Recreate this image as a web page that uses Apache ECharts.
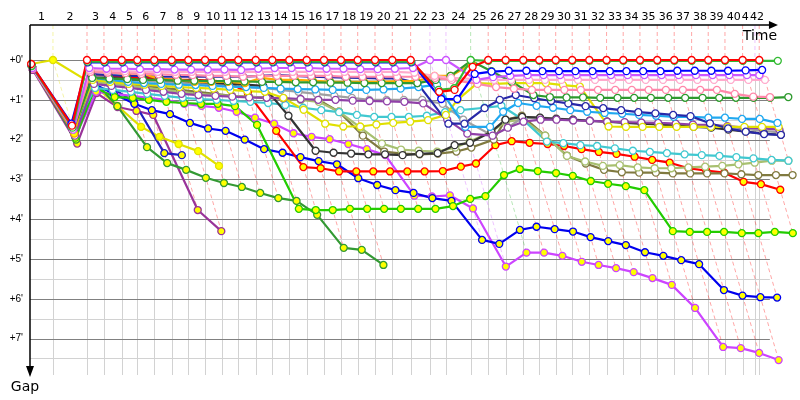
<!DOCTYPE html>
<html><head><meta charset="utf-8">
<script src="https://cdn.jsdelivr.net/npm/echarts@6/dist/echarts.min.js"></script>
<style>html,body{margin:0;padding:0;background:#fff}#c{width:800px;height:400px}</style>
</head><body><div id="c"></div>
<script>
// ---------- DATA ----------
const lapLabels = ['1','2','3','4','5','6','7','8','9','10','11','12','13','14','15','16','17','18','19','20','21','22','23','24','25','26','27','28','29','30','31','32','33','34','35','36','37','38','39','40','41','42'];
// leader's time (minutes) at the end of each lap, index 0 = start
const lapTimes = [0,1.99,4.94,6.41,7.95,9.30,10.77,12.28,13.72,15.17,16.61,18.05,19.56,21.00,22.47,23.98,25.48,26.95,28.40,29.90,31.40,32.99,34.66,36.05,38.19,39.71,41.22,42.75,44.13,45.56,46.99,48.47,49.97,51.41,52.86,54.36,55.83,57.34,58.78,60.23,61.76,62.83,63.20];
const finishTime = 64.79;
const gapTicks = [0,1,2,3,4,5,6,7];
const gapMinorTicks = [0.5,1.5,2.5,3.5,4.5,5.5,6.5,7.5];
// gap to leader (minutes) per lap, index = lap
const gapRedW = [0.1,1.65,0,0,0,0,0,0,0,0, 0,0,0,0,0,0,0,0,0,0, 0,0,0.8,0.75,0.17,0,0,0,0,0, 0,0,0,0,0,0,0,0,0,0, 0,null,0];
const gapGreenW = [0.15,1.7,0.04,0.04,0.04,0.04,0.04,0.04,0.04,0.04, 0.04,0.04,0.04,0.04,0.04,0.04,0.04,0.04,0.04,0.04, 0.04,0.04,0.75,0.71,0,0.02,0.02,0.02,0.02,0.02, 0.02,0.02,0.02,0.02,0.02,0.02,0.02,0.02,0.02,0.02, 0.02,null,0.02,0.02];
const gapBlueW = [0.12,1.6,0.06,0.06,0.06,0.06,0.06,0.06,0.06,0.06, 0.06,0.06,0.06,0.06,0.06,0.06,0.06,0.06,0.06,0.06, 0.06,0.06,0.98,0.98,0.35,0.29,0.27,0.27,0.28,0.28, 0.28,0.28,0.28,0.28,0.28,0.28,0.27,0.27,0.27,0.27, 0.26,null,0.25];
const gapMagentaW = [0.2,1.75,0.2,0.22,0.22,0.23,0.23,0.24,0.24,0.24, 0.24,0.25,0.22,0.2,0.2,0.2,0.22,0.22,0.23,0.23, 0.22,0.2,0,0,0.5,0.43,0.4,0.38,0.38,0.38, 0.38,0.38,0.38,0.38,0.38,0.38,0.38,0.38,0.38,0.38, 0.38,0.38];
const gapLightPinkW = [0.2,1.7,0.25,0.27,0.28,0.3,0.3,0.3,0.3,0.3, 0.3,0.3,0.3,0.3,0.3,0.3,0.3,0.3,0.3,0.3, 0.3,0.32,0.4,0.45,0.48,0.5,0.5,0.5,0.5,0.5, 0.5,0.5,0.5,0.5,0.5,0.5,0.5,0.5,0.5,0.5, 0.5,null,0.5];
const gapPinkW = [0.22,1.75,0.3,0.32,0.33,0.35,0.36,0.37,0.38,0.4, 0.4,0.42,0.4,0.4,0.4,0.4,0.4,0.42,0.42,0.42, 0.42,0.42,0.45,0.5,0.6,0.68,0.72,0.75,0.75,0.75, 0.75,0.75,0.75,0.75,0.75,0.75,0.75,0.75,0.75,0.85, 0.92,null,0.93];
const gapOrangeY = [0.2,1.85,0.3,0.3,0.35,0.33,0.48,0.5,0.55,0.55, 0.55,0.58,0.45,0.5,0.5,0.52,0.55,0.55,0.55,0.55, 0.53,0.53,0.4,0.4,0.1];
const gapNavyW = [0.15,1.8,0.35,0.38,0.4,0.4,0.42,0.42,0.42,0.42, 0.42,0.42,0.4,0.38,0.4,0.42,0.43,0.44,0.45,0.46, 0.46,0.58,1.6,1.6,1.21,1.0,0.88,0.96,1.03,1.09, 1.16,1.21,1.26,1.31,1.34,1.38,1.41,1.59,1.72,1.8, 1.86,null,1.88];
const gapBlackW = [0.2,1.8,0.45,0.45,0.48,0.5,0.5,0.52,0.55,0.57, 0.6,0.62,0.65,1.4,2.28,2.33,2.35,2.37,2.37,2.39, 2.36,2.34,2.14,2.08,1.8,1.5,1.43,1.45,1.48,1.5, 1.53,1.55,1.58,1.6,1.62,1.65,1.68,1.7,1.75,1.8, 1.85,null,1.88];
const gapGrayW = [0.2,1.75,0.4,0.45,0.5,0.52,0.55,0.58,0.6,0.62, 0.65,0.68,0.7,0.75,0.8,0.85,0.9,0.95,1.0,1.0, 1.0,1.0,1.1,1.5,1.9,1.7,1.45,1.45,1.47,1.5, 1.52,1.55,1.57,1.6,1.6,1.62,1.65,1.68,1.7,1.73, 1.78,null,1.82];
const gapSkyW = [0.18,1.7,0.45,0.5,0.55,0.58,0.6,0.62,0.63,0.65, 0.67,0.68,0.7,0.72,0.73,0.74,0.75,0.75,0.75,0.74, 0.72,0.68,0.62,1.68,1.68,1.3,1.08,1.15,1.2,1.26, 1.3,1.33,1.35,1.38,1.4,1.43,1.43,1.45,1.45,1.48, 1.48,null,1.58];
const gapTurqW = [0.18,1.75,0.7,0.75,0.8,0.85,0.9,0.95,0.98,1.0, 1.03,1.05,1.08,1.13,1.2,1.26,1.31,1.38,1.43,1.43, 1.43,1.4,1.31,1.26,1.2,1.15,1.5,2.05,2.09,2.14, 2.16,2.22,2.28,2.31,2.34,2.37,2.39,2.41,2.44,2.47, 2.51,null,2.53];
const gapOliveW = [0.2,1.8,0.5,0.55,0.6,0.65,0.7,0.75,0.8,0.85, 0.9,0.92,0.95,0.97,1.0,1.0,1.3,1.9,2.3,2.35, 2.37,2.35,2.3,2.2,2.0,1.5,1.4,1.9,2.4,2.6, 2.76,2.82,2.83,2.83,2.85,2.85,2.85,2.85,2.87,2.89, 2.89,null,2.89];
const gapLightOliveW = [0.2,1.8,0.55,0.6,0.65,0.7,0.75,0.8,0.85,0.88, 0.9,0.92,0.95,0.97,1.0,1.05,1.3,1.7,2.1,2.25, 2.28,2.3,2.2,2.05,1.8,1.55,1.5,1.9,2.41,2.55, 2.66,2.64,2.7,2.72,2.72,2.7,2.68,2.66,2.62,2.58, 2.53,null,2.53];
const gapYellowW = [0.15,1.75,0.5,0.55,0.6,0.62,0.65,0.68,0.7,0.72, 0.75,0.78,0.8,0.95,1.25,1.6,1.67,1.67,1.62,1.58, 1.55,1.51,1.38,1.0,0.58,0.6,0.58,0.58,0.58,0.63, 0.67,1.67,1.68,1.68,1.68,1.68,1.68,1.68,1.68,1.68, 1.68,null,1.68];
const gapPurpleW = [0.2,1.9,0.6,0.65,0.7,0.75,0.8,0.85,0.88,0.9, 0.92,0.94,0.95,0.96,0.98,1.0,1.0,1.02,1.03,1.04, 1.05,1.09,1.5,1.85,1.9,1.7,1.55,1.5,1.5,1.52, 1.53,1.55,1.56,1.57,1.58,1.6,1.62,1.63,1.66,1.7, 1.72,null,1.75];
const gapDarkGreenW = [0.18,1.75,0.45,0.47,0.48,0.5,0.5,0.52,0.52,0.53, 0.53,0.54,0.55,0.55,0.56,0.56,0.57,0.57,0.58,0.58, 0.58,0.58,0.5,0.4,0.02,0.28,0.55,0.88,0.93,0.94, 0.94,0.95,0.95,0.95,0.95,0.95,0.95,0.95,0.95,0.95, 0.95,null,0.95,0.93];
const gapRedY = [0.2,1.85,0.4,0.42,0.43,0.45,0.47,0.5,0.5,0.52, 0.55,0.83,1.78,2.69,2.72,2.8,2.8,2.8,2.8,2.8, 2.8,2.79,2.68,2.6,2.14,2.04,2.08,2.11,2.16,2.24, 2.31,2.36,2.43,2.51,2.58,2.72,2.78,2.83,3.06,3.12, 3.26];
const gapGreenY = [0.2,1.95,0.7,0.93,0.95,1.0,1.05,1.08,1.1,1.1, 1.16,1.63,3.74,3.77,3.77,3.74,3.74,3.74,3.74,3.74, 3.74,3.67,3.49,3.42,2.89,2.74,2.79,2.84,2.91,3.04, 3.11,3.17,3.27,4.3,4.32,4.32,4.32,4.35,4.35,4.32, 4.35];
const gapBlueY = [0.2,1.9,0.6,0.85,1.1,1.26,1.36,1.58,1.72,1.78, 2.0,2.24,2.33,2.44,2.54,2.62,2.97,3.14,3.27,3.34, 3.47,3.54,4.52,4.62,4.27,4.19,4.25,4.31,4.45,4.55, 4.65,4.83,4.92,5.03,5.13,5.78,5.92,5.96,5.97];
const gapMagentaY = [0.22,1.93,0.8,0.85,0.9,0.95,1.0,1.1,1.15,1.2, 1.3,1.45,1.6,1.84,1.93,1.99,2.11,2.24,2.39,3.41, 3.43,3.4,3.73,5.19,4.84,4.84,4.92,5.07,5.15,5.23, 5.33,5.48,5.65,6.23,7.21,7.24,7.36,7.54];
const gapDarkGreenY = [0.2,2.0,0.5,1.16,2.19,2.59,2.76,2.96,3.09,3.19, 3.34,3.47,3.54,3.89,4.72,4.77,5.15];
const gapNavyY = [0.15,1.9,0.45,0.7,1.05,2.34,2.39];
const gapPurpleY = [0.25,2.1,0.83,1.18,1.28,1.38,3.77,4.3];
const gapYellowY = [0.1,0,0.63,1.15,1.68,1.93,2.11,2.29,2.66];

// ---------- STYLES ----------
const seriesList = [
  ['purpleY', gapPurpleY, '#993399', '#ffff00'],
  ['yellowY', gapYellowY, '#e0e000', '#ffff00'],
  ['navyY', gapNavyY, '#2020c0', '#ffff00'],
  ['darkGreenY', gapDarkGreenY, '#339933', '#ffff00'],
  ['magentaY', gapMagentaY, '#cc44ff', '#ffff00'],
  ['blueY', gapBlueY, '#0000ee', '#ffff00'],
  ['greenY', gapGreenY, '#22cc00', '#ffff00'],
  ['redY', gapRedY, '#ff0000', '#ffff00'],
  ['oliveW', gapOliveW, '#807a40', '#ffffff'],
  ['lightOliveW', gapLightOliveW, '#a8c070', '#ffffff'],
  ['turqW', gapTurqW, '#40c8d0', '#ffffff'],
  ['grayW', gapGrayW, '#a0a0a0', '#ffffff'],
  ['blackW', gapBlackW, '#333333', '#ffffff'],
  ['purpleW', gapPurpleW, '#9040a8', '#ffffff'],
  ['yellowW', gapYellowW, '#e0e000', '#ffffff'],
  ['skyW', gapSkyW, '#20a8f0', '#ffffff'],
  ['navyW', gapNavyW, '#2828a8', '#ffffff'],
  ['orangeY', gapOrangeY, '#ffaa00', '#ffff00'],
  ['darkGreenW', gapDarkGreenW, '#2e9a2e', '#ffffff'],
  ['pinkW', gapPinkW, '#ff88aa', '#ffffff'],
  ['lightPinkW', gapLightPinkW, '#ffaacc', '#ffffff'],
  ['magentaW', gapMagentaW, '#cc55ff', '#ffffff'],
  ['blueW', gapBlueW, '#0000ff', '#ffffff'],
  ['greenW', gapGreenW, '#33bb33', '#ffffff'],
  ['redW', gapRedW, '#ff0000', '#ffffff']
];
const leaderPriority = ['redW','magentaW','greenW','darkGreenW','blueW','yellowY'];

function timeOf(k){ return k < lapTimes.length ? lapTimes[k] : finishTime; }
function rgba(hex, a){
  const n = parseInt(hex.slice(1),16);
  return 'rgba(' + ((n>>16)&255) + ',' + ((n>>8)&255) + ',' + (n&255) + ',' + a + ')';
}
const Y_MIN = -0.88, Y_MAX = 7.915;

const lapInfo = [];
for (let k = 1; k < lapTimes.length; k++) {
  let best = null, bestGap = Infinity, maxGap = 0;
  const ordered = seriesList.slice().sort((a,b)=>{
    const ia = leaderPriority.indexOf(a[0]), ib = leaderPriority.indexOf(b[0]);
    return (ia<0?99:ia) - (ib<0?99:ib);
  });
  ordered.forEach(s => {
    const g = s[1][k];
    if (g === null || g === undefined) return;
    if (g < bestGap) { bestGap = g; best = s; }
    if (g > maxGap) maxGap = g;
  });
  lapInfo.push({k, leader: best, maxGap});
}

const chart = echarts.init(document.getElementById('c'));
const FONT = '"DejaVu Sans", Verdana, sans-serif';

const background = {
  type: 'custom', silent: true, clip: false, z: 1, animation: false,
  data: [[0, 0]],
  renderItem: function (params, api) {
    const ch = [];
    const gridEnd = api.coord([64.12, 0])[0];
    const left = api.coord([0, 0])[0];
    gapMinorTicks.forEach(v => {
      const y = Math.round(api.coord([0, v])[1]) + 0.5;
      ch.push({type:'line', shape:{x1:left, y1:y, x2:gridEnd, y2:y}, style:{stroke:'#d2d2d2', lineWidth:1}});
    });
    for (let k = 1; k < lapTimes.length; k++) {
      const a = api.coord([lapTimes[k], 0]), b = api.coord([lapTimes[k], Y_MAX]);
      ch.push({type:'line', shape:{x1:Math.round(a[0])+0.5, y1:a[1], x2:Math.round(a[0])+0.5, y2:b[1]}, style:{stroke:'#d2d2d2', lineWidth:1}});
    }
    gapTicks.forEach(v => {
      const y = Math.round(api.coord([0, v])[1]) + 0.5;
      ch.push({type:'line', shape:{x1:left, y1:y, x2:gridEnd, y2:y}, style:{stroke:'#808080', lineWidth:1}});
    });
    lapInfo.forEach(info => {
      const t = lapTimes[info.k];
      const p0 = api.coord([t, Y_MIN]), p1 = api.coord([t, 0]), p2 = api.coord([t + info.maxGap, info.maxGap]);
      const col = info.leader ? rgba(info.leader[2], 0.35) : 'rgba(255,0,0,0.35)';
      ch.push({type:'polyline', shape:{points:[p0, p1, p2]}, style:{stroke:col, lineWidth:1, lineDash:[4,3], fill:null}});
    });
    return {type:'group', children: ch};
  }
};

const foreground = {
  type: 'custom', silent: true, clip: false, z: 5, animation: false,
  data: [[0, 0]],
  renderItem: function (params, api) {
    const ch = [];
    const o = api.coord([0, Y_MIN]);
    const bottom = api.coord([0, Y_MAX])[1];
    const right = api.coord([64.82, 0])[0];
    ch.push({type:'line', shape:{x1:o[0], y1:o[1], x2:right-6, y2:o[1]}, style:{stroke:'#000', lineWidth:1.5}});
    ch.push({type:'polygon', shape:{points:[[right-9,o[1]-4],[right,o[1]],[right-9,o[1]+4]]}, style:{fill:'#000'}});
    ch.push({type:'line', shape:{x1:o[0], y1:o[1], x2:o[0], y2:bottom-4}, style:{stroke:'#000', lineWidth:1.5}});
    ch.push({type:'polygon', shape:{points:[[o[0]-4,bottom-9],[o[0],bottom+2],[o[0]+4,bottom-9]]}, style:{fill:'#000'}});
    lapLabels.forEach((lab, i) => {
      const k = i + 1;
      const x = api.coord([(lapTimes[k-1] + lapTimes[k]) / 2, 0])[0];
      ch.push({type:'text', style:{text:lab, x:x, y:o[1]-8, align:'center', verticalAlign:'middle', fill:'#000', font:'11px ' + FONT, backgroundColor:'#fff'}});
    });
    gapTicks.forEach(v => {
      const y = api.coord([0, v])[1];
      ch.push({type:'text', style:{text:'+' + v + "'", x:o[0]-7, y:y, align:'right', verticalAlign:'middle', fill:'#000', font:'10px "Liberation Sans", Arial, sans-serif'}});
    });
    ch.push({type:'text', style:{text:'Time', x:right-18, y:o[1]+11, align:'center', verticalAlign:'middle', fill:'#000', font:'14px ' + FONT}});
    ch.push({type:'text', style:{text:'Gap', x:o[0]-5, y:bottom+12, align:'center', verticalAlign:'middle', fill:'#000', font:'14px ' + FONT}});
    return {type:'group', children: ch};
  }
};

const lines = seriesList.map(s => {
  const [name, gaps, color, fill] = s;
  const data = [];
  gaps.forEach((g, k) => { if (g !== null && g !== undefined) data.push([timeOf(k) + g, g]); });
  return {
    type: 'line', name: name, data: data, z: 3, clip: false, animation: false, silent: true,
    symbol: 'circle', symbolSize: 7, showAllSymbol: true,
    lineStyle: {color: color, width: 2.2},
    itemStyle: {color: fill, borderColor: color, borderWidth: 1.3},
    emphasis: {disabled: true}
  };
});

chart.setOption({
  animation: false,
  grid: {left: 30, top: 25, width: 765, height: 350},
  xAxis: {type: 'value', min: 0, max: 66.3, show: false},
  yAxis: {type: 'value', inverse: true, min: Y_MIN, max: Y_MAX, show: false},
  series: [background].concat(lines, [foreground])
});
</script>
</body></html>
